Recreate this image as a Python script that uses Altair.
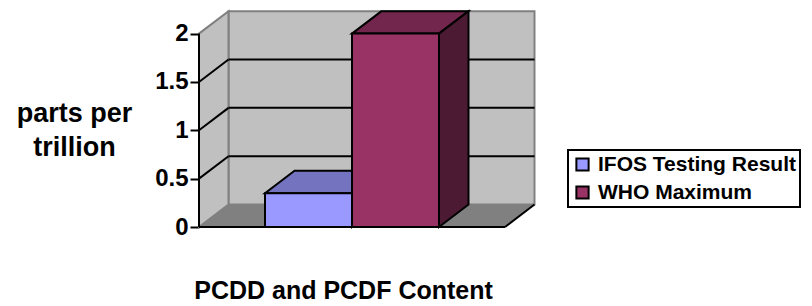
import altair as alt
import pandas as pd

# ---- data ----
category = "PCDD and PCDF Content"
series = ["IFOS Testing Result", "WHO Maximum"]
values = [0.35, 2.0]
front_colors = ["#9999FF", "#993366"]
top_colors = ["#7373BF", "#73264D"]
side_colors = ["#4D4D80", "#4D1A33"]
y_ticks = [0, 0.5, 1, 1.5, 2]
y_title = ["parts per", "trillion"]

# ---- style / geometry constants ----
FONT = "Liberation Sans"
X_MAX = 336 / 306          # front floor width = 1 unit
Y_MAX = 216 / 96.7
DX = 0.0964                # depth offset (x, in category units)
DY = 0.232                 # depth offset (y, in value units)
BAR_W = 0.2843
GAP = (1 - len(series) * BAR_W) / 2
AX_TOP = max(y_ticks)
WALL = "#C0C0C0"
FLOOR = "#808080"
EDGE = "#808080"

xs = alt.Scale(domain=[0, X_MAX], nice=False, zero=False)
ys = alt.Scale(domain=[0, Y_MAX], nice=False, zero=False)

x_enc = alt.X("x:Q", scale=xs, axis=alt.Axis(
    labels=False, ticks=False, domain=False, grid=False, title=category,
    titleX=144, titleY=71, titleAlign="center", titleBaseline="alphabetic",
    titleFont=FONT, titleFontSize=25, titleFontWeight="bold", titleColor="black"))
y_enc = alt.Y("y:Q", scale=ys, axis=alt.Axis(
    values=y_ticks, format="~g", domain=False, grid=False,
    tickColor="black", tickSize=9, tickWidth=2, labelPadding=2,
    labelFont=FONT, labelFontSize=24, labelFontWeight="bold", labelColor="black",
    labelFlush=False, labelOverlap=False,
    title=y_title, titleAngle=0, titleAlign="center", titleBaseline="alphabetic",
    titleX=-125, titleY=110, titleLineHeight=34,
    titleFont=FONT, titleFontSize=27, titleFontWeight="bold", titleColor="black"))

# back wall
wall_df = pd.DataFrame({"x": [DX], "x2": [1 + DX], "y": [DY], "y2": [AX_TOP + DY]})
back_wall = alt.Chart(wall_df).mark_rect(fill=WALL, stroke=EDGE, strokeWidth=2).encode(
    x2="x2:Q", y2="y2:Q")

left_df = pd.DataFrame({"x": [0, DX], "y": [0, DY], "y2": [AX_TOP, AX_TOP + DY]})
left_wall = alt.Chart(left_df).mark_area(orient="vertical", fill=WALL, stroke=EDGE, strokeWidth=2).encode(
    y2="y2:Q")

floor_df = pd.DataFrame({"y": [0, DY], "x": [0, DX], "x2": [1, 1 + DX]})
floor = alt.Chart(floor_df).mark_area(orient="horizontal", fill=FLOOR).encode(x2="x2:Q")

edges_df = pd.DataFrame({"x": [0, 1], "y": [0, 0], "x2": [1, 1 + DX], "y2": [0, DY]})
floor_edges = alt.Chart(edges_df).mark_rule(color="black", strokeWidth=2).encode(
    x2="x2:Q", y2="y2:Q")

grid_vals = [v for v in y_ticks if 0 < v < AX_TOP]
grid_df = pd.DataFrame({"x": [DX] * len(grid_vals), "x2": [1 + DX] * len(grid_vals),
                        "y": [v + DY for v in grid_vals]})
back_grid = alt.Chart(grid_df).mark_rule(color="black", strokeWidth=2).encode(x2="x2:Q")

diag_df = pd.DataFrame({"x": [0] * len(grid_vals), "x2": [DX] * len(grid_vals),
                        "y": grid_vals, "y2": [v + DY for v in grid_vals]})
left_grid = alt.Chart(diag_df).mark_rule(color="black", strokeWidth=2).encode(
    x2="x2:Q", y2="y2:Q")

axis_df = pd.DataFrame({"x": [0], "y": [0], "y2": [AX_TOP]})
axis_line = alt.Chart(axis_df).mark_rule(color="black", strokeWidth=2).encode(y2="y2:Q")

layers = [back_wall, left_wall, floor, floor_edges, back_grid, left_grid, axis_line]

front_rows = []
for i, (s, v) in enumerate(zip(series, values)):
    x0 = GAP + i * BAR_W
    x1 = x0 + BAR_W
    top_df = pd.DataFrame({"y": [v, v + DY], "x": [x0, x0 + DX], "x2": [x1, x1 + DX]})
    layers.append(alt.Chart(top_df).mark_area(
        orient="horizontal", fill=top_colors[i], stroke="black", strokeWidth=2, strokeJoin="miter"
    ).encode(x2="x2:Q"))
    side_df = pd.DataFrame({"x": [x1, x1 + DX], "y": [0, DY], "y2": [v, v + DY]})
    layers.append(alt.Chart(side_df).mark_area(
        orient="vertical", fill=side_colors[i], stroke="black", strokeWidth=2, strokeJoin="miter"
    ).encode(y2="y2:Q"))
    front_rows.append({"series": s, "x": x0, "x2": x1, "y": 0, "y2": v})

front_df = pd.DataFrame(front_rows)
fronts = alt.Chart(front_df).mark_rect(stroke="black", strokeWidth=2).encode(
    x2="x2:Q", y2="y2:Q",
    fill=alt.Fill("series:N", scale=alt.Scale(domain=series, range=front_colors),
                  legend=alt.Legend(
                      title=None, orient="none", legendX=369, legendY=139,
                      symbolType="square", symbolSize=150, symbolStrokeColor="black",
                      symbolStrokeWidth=2, symbolOpacity=1,
                      labelFont=FONT, labelFontSize=21, labelFontWeight="bold", labelColor="black",
                      labelOffset=5, labelLimit=400, rowPadding=6, padding=4,
                      strokeColor="black", fillColor="white")),
)
layers.append(fronts)

chart = alt.layer(*layers).encode(x=x_enc, y=y_enc).properties(
    width=336, height=216,
    padding={"left": 191, "top": 3, "right": 269, "bottom": 82},
    autosize=alt.AutoSizeParams(type="none"),
    background="white",
).configure_view(stroke=None).configure_legend(strokeWidth=2)

chart.save("out.html", embed_options={"renderer": "svg", "actions": False})
